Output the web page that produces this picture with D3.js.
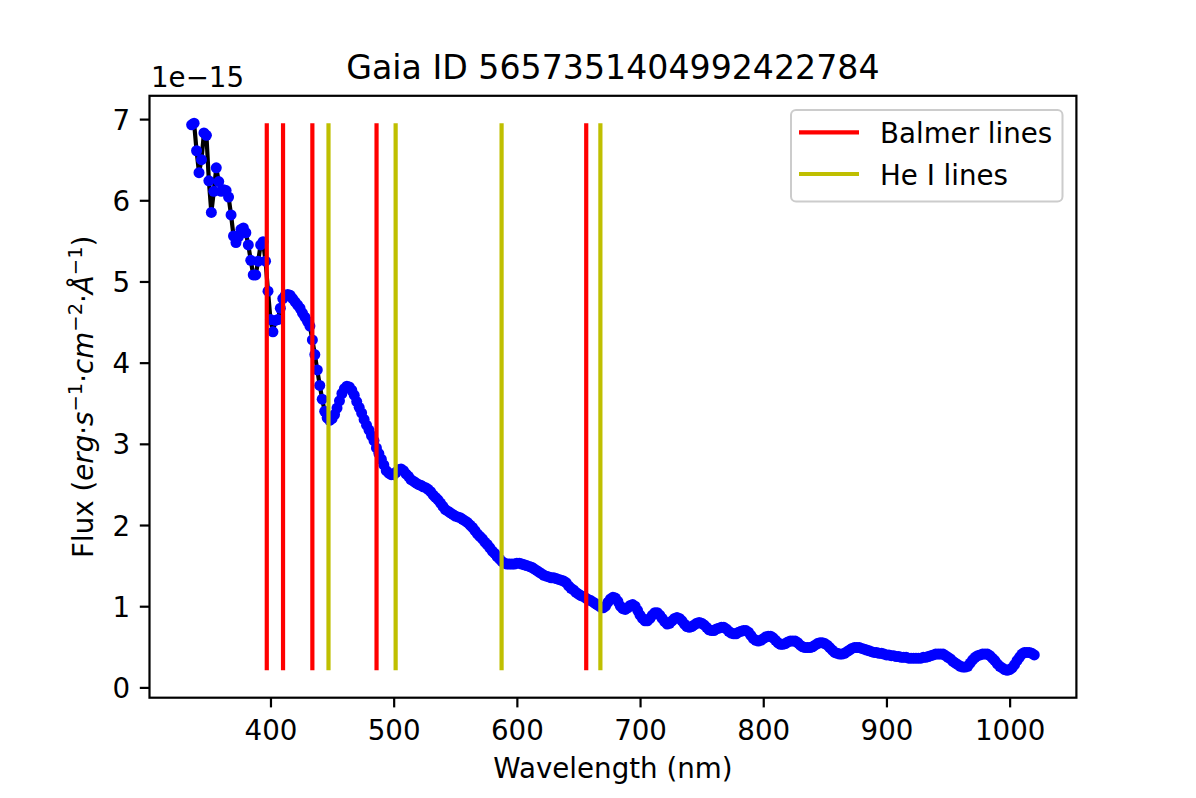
<!DOCTYPE html>
<html>
<head>
<meta charset="utf-8">
<script src="https://cdn.jsdelivr.net/npm/d3@7"></script>
<style>
  body { margin: 0; background: #fff; }
  svg { display: block; font-family: "DejaVu Sans", sans-serif; }
</style>
</head>
<body>
<svg id="chart" width="1196" height="798"></svg>
<script>
// Gaia XP sampled spectrum, flux in units of 1e-15
const wavelength = [
  336,338,340,342,344,346,348,350,352,354,
  356,358,360,362,364,366,368,370,372,374,
  376,378,380,382,384,386,388,390,392,394,
  396,398,400,402,404,406,408,410,412,414,
  416,418,420,422,424,426,428,430,432,434,
  436,438,440,442,444,446,448,450,452,454,
  456,458,460,462,464,466,468,470,472,474,
  476,478,480,482,484,486,488,490,492,494,
  496,498,500,502,504,506,508,510,512,514,
  516,518,520,522,524,526,528,530,532,534,
  536,538,540,542,544,546,548,550,552,554,
  556,558,560,562,564,566,568,570,572,574,
  576,578,580,582,584,586,588,590,592,594,
  596,598,600,602,604,606,608,610,612,614,
  616,618,620,622,624,626,628,630,632,634,
  636,638,640,642,644,646,648,650,652,654,
  656,658,660,662,664,666,668,670,672,674,
  676,678,680,682,684,686,688,690,692,694,
  696,698,700,702,704,706,708,710,712,714,
  716,718,720,722,724,726,728,730,732,734,
  736,738,740,742,744,746,748,750,752,754,
  756,758,760,762,764,766,768,770,772,774,
  776,778,780,782,784,786,788,790,792,794,
  796,798,800,802,804,806,808,810,812,814,
  816,818,820,822,824,826,828,830,832,834,
  836,838,840,842,844,846,848,850,852,854,
  856,858,860,862,864,866,868,870,872,874,
  876,878,880,882,884,886,888,890,892,894,
  896,898,900,902,904,906,908,910,912,914,
  916,918,920,922,924,926,928,930,932,934,
  936,938,940,942,944,946,948,950,952,954,
  956,958,960,962,964,966,968,970,972,974,
  976,978,980,982,984,986,988,990,992,994,
  996,998,1000,1002,1004,1006,1008,1010,1012,1014,
  1016,1018,1020
]
const flux = [
  6.93,6.95,6.61,6.34,6.50,6.83,6.80,6.24,5.85,6.11,
  6.40,6.23,6.11,6.13,6.12,6.04,5.82,5.56,5.48,5.55,
  5.64,5.66,5.60,5.45,5.26,5.08,5.08,5.25,5.45,5.49,
  5.25,4.88,4.53,4.38,4.52,4.53,4.67,4.79,4.83,4.84,
  4.83,4.79,4.75,4.71,4.67,4.61,4.56,4.51,4.45,4.28,
  4.10,3.91,3.72,3.55,3.40,3.32,3.29,3.31,3.36,3.44,
  3.53,3.62,3.68,3.71,3.70,3.66,3.60,3.52,3.45,3.38,
  3.30,3.23,3.17,3.10,3.04,2.95,2.88,2.81,2.74,2.67,
  2.64,2.62,2.62,2.65,2.68,2.69,2.67,2.63,2.60,2.56,
  2.54,2.52,2.50,2.49,2.47,2.46,2.44,2.41,2.37,2.34,
  2.31,2.27,2.23,2.19,2.17,2.15,2.13,2.11,2.10,2.09,
  2.07,2.05,2.03,2.00,1.97,1.93,1.89,1.86,1.83,1.79,
  1.76,1.72,1.68,1.65,1.61,1.58,1.55,1.53,1.52,1.52,
  1.52,1.52,1.53,1.53,1.52,1.51,1.50,1.49,1.48,1.46,
  1.44,1.42,1.40,1.38,1.37,1.36,1.35,1.35,1.34,1.33,
  1.32,1.31,1.29,1.25,1.22,1.20,1.17,1.15,1.13,1.12,
  1.10,1.08,1.07,1.05,1.03,1.01,0.99,0.98,1.00,1.05,
  1.09,1.11,1.10,1.06,1.00,0.97,0.96,0.98,1.01,1.02,
  1.00,0.95,0.89,0.85,0.82,0.82,0.85,0.89,0.92,0.92,
  0.89,0.85,0.81,0.78,0.79,0.82,0.85,0.86,0.85,0.82,
  0.78,0.75,0.74,0.75,0.77,0.79,0.80,0.79,0.77,0.74,
  0.71,0.70,0.70,0.72,0.73,0.74,0.74,0.72,0.69,0.67,
  0.66,0.66,0.68,0.69,0.70,0.70,0.68,0.64,0.60,0.58,
  0.57,0.58,0.60,0.62,0.63,0.63,0.61,0.58,0.55,0.53,
  0.53,0.54,0.56,0.57,0.57,0.57,0.55,0.52,0.50,0.49,
  0.49,0.49,0.50,0.52,0.54,0.55,0.55,0.54,0.52,0.49,
  0.46,0.43,0.42,0.41,0.41,0.42,0.44,0.46,0.48,0.49,
  0.49,0.49,0.48,0.47,0.46,0.45,0.44,0.43,0.43,0.42,
  0.42,0.41,0.40,0.40,0.39,0.39,0.38,0.38,0.37,0.37,
  0.37,0.36,0.36,0.36,0.36,0.36,0.36,0.37,0.37,0.38,
  0.39,0.40,0.41,0.41,0.41,0.41,0.39,0.37,0.35,0.32,
  0.30,0.28,0.26,0.25,0.25,0.26,0.30,0.34,0.37,0.39,
  0.40,0.41,0.41,0.41,0.39,0.36,0.33,0.29,0.26,0.24,
  0.22,0.21,0.22,0.24,0.28,0.33,0.37,0.41,0.43,0.43,
  0.43,0.42,0.40
]
const balmerLines = [397.0, 410.2, 434.0, 486.1, 656.3]
const heLines = [447.1, 501.6, 587.6, 667.8]
const xTicks = [400, 500, 600, 700, 800, 900, 1000]
const yTicks = [0, 1, 2, 3, 4, 5, 6, 7]
const legendItems = [
  {label: "Balmer lines", color: "#ff0000"},
  {label: "He I lines", color: "#bfbf00"}
]
const titleText = "Gaia ID 5657351404992422784"

const width = 1196
const height = 798
const margin = {left: 149.5, right: 1076.4, top: 95.8, bottom: 697.7}
const fs = 27.7
const lw = 4.2

const svg = d3.select("#chart")
svg.append("rect").attr("width", width).attr("height", height).attr("fill", "#fff")

// matplotlib style 5% padding on the data limits
function padded(ext){
  const pad = (ext[1] - ext[0]) * 0.05
  return [ext[0] - pad, ext[1] + pad]
}
const fluxMin = d3.min(flux)
const fluxMax = d3.max(flux)

const x = d3.scaleLinear().domain(padded(d3.extent(wavelength))).range([margin.left, margin.right])
const y = d3.scaleLinear().domain(padded([fluxMin, fluxMax])).range([margin.bottom, margin.top])

const points = wavelength.map((w, i) => ({w: w, f: flux[i]}))

const line = d3.line().x(d => x(d.w)).y(d => y(d.f))
svg.append("path")
  .datum(points)
  .attr("d", line)
  .attr("fill", "none")
  .attr("stroke", "#000")
  .attr("stroke-width", lw)
  .attr("stroke-linejoin", "round")

svg.append("g").selectAll("circle")
  .data(points)
  .enter().append("circle")
  .attr("cx", d => x(d.w))
  .attr("cy", d => y(d.f))
  .attr("r", 5.5)
  .attr("fill", "#0000ff")

function drawVlines(values, color){
  svg.append("g").selectAll("line")
    .data(values)
    .enter().append("line")
    .attr("x1", d => x(d)).attr("x2", d => x(d))
    .attr("y1", y(fluxMin)).attr("y2", y(fluxMax))
    .attr("stroke", color)
    .attr("stroke-width", lw)
}
drawVlines(balmerLines, legendItems[0].color)
drawVlines(heLines, legendItems[1].color)

// axes
const xAxis = svg.append("g")
  .attr("transform", `translate(0,${margin.bottom})`)
  .call(d3.axisBottom(x).tickValues(xTicks).tickSizeInner(9.7).tickSizeOuter(0).tickFormat(d3.format("d")))
xAxis.selectAll("text").attr("y", 42).attr("dy", null)

const yAxis = svg.append("g")
  .attr("transform", `translate(${margin.left},0)`)
  .call(d3.axisLeft(y).tickValues(yTicks).tickSizeInner(9.7).tickSizeOuter(0).tickPadding(9.7).tickFormat(d3.format("d")))
yAxis.selectAll("text").attr("dy", "0.36em")

for(const ax of [xAxis, yAxis]){
  ax.select(".domain").remove()
  ax.selectAll("line").attr("stroke", "#000").attr("stroke-width", 2.2)
  ax.selectAll("text").attr("fill", "#000").style("font-size", fs + "px").style("font-family", "DejaVu Sans")
}

svg.append("rect")
  .attr("x", margin.left).attr("y", margin.top)
  .attr("width", margin.right - margin.left).attr("height", margin.bottom - margin.top)
  .attr("fill", "none").attr("stroke", "#000").attr("stroke-width", 2.2)

// offset text, title, labels
svg.append("text").attr("x", 151).attr("y", 86.5)
  .style("font-size", fs + "px").text("1e\u221215")

svg.append("text")
  .attr("x", (margin.left + margin.right) / 2).attr("y", 79)
  .attr("text-anchor", "middle").style("font-size", "33.2px")
  .text(titleText)

svg.append("text")
  .attr("x", (margin.left + margin.right) / 2).attr("y", 778)
  .attr("text-anchor", "middle").style("font-size", fs + "px")
  .text("Wavelength (nm)")

const yLabel = svg.append("text")
  .attr("transform", `translate(93,${(margin.top + margin.bottom) / 2}) rotate(-90)`)
  .attr("text-anchor", "middle").style("font-size", fs + "px")
const sup = 19.5
const parts = [
  {t: "Flux (", it: false},
  {t: "erg", it: true},
  {t: "\u00b7", it: false},
  {t: "s", it: true},
  {t: "\u22121", sup: true},
  {t: "\u00b7", it: false},
  {t: "cm", it: true},
  {t: "\u22122", sup: true},
  {t: "\u00b7", it: false},
  {t: "\u00c5", it: true},
  {t: "\u22121", sup: true},
  {t: ")", it: false}
]
let raised = false
for(const p of parts){
  const ts = yLabel.append("tspan").text(p.t)
  if(p.sup){
    ts.attr("dy", raised ? 0 : -11).style("font-size", sup + "px")
    raised = true
  }else{
    if(raised){ ts.attr("dy", 11); raised = false }
    if(p.it) ts.style("font-style", "italic")
  }
}

// legend
const legend = svg.append("g")
legend.append("rect")
  .attr("x", 791).attr("y", 110).attr("width", 271.5).attr("height", 91.5)
  .attr("rx", 5).attr("fill", "#fff").attr("fill-opacity", 0.8)
  .attr("stroke", "#cccccc").attr("stroke-width", 2)
const rowY = [132.3, 174]
legendItems.forEach((item, i) => {
  legend.append("line")
    .attr("x1", 799).attr("x2", 859).attr("y1", rowY[i]).attr("y2", rowY[i])
    .attr("stroke", item.color).attr("stroke-width", lw)
  legend.append("text")
    .attr("x", 880).attr("y", rowY[i] + 10.5)
    .style("font-size", fs + "px").text(item.label)
})
</script>
</body>
</html>
